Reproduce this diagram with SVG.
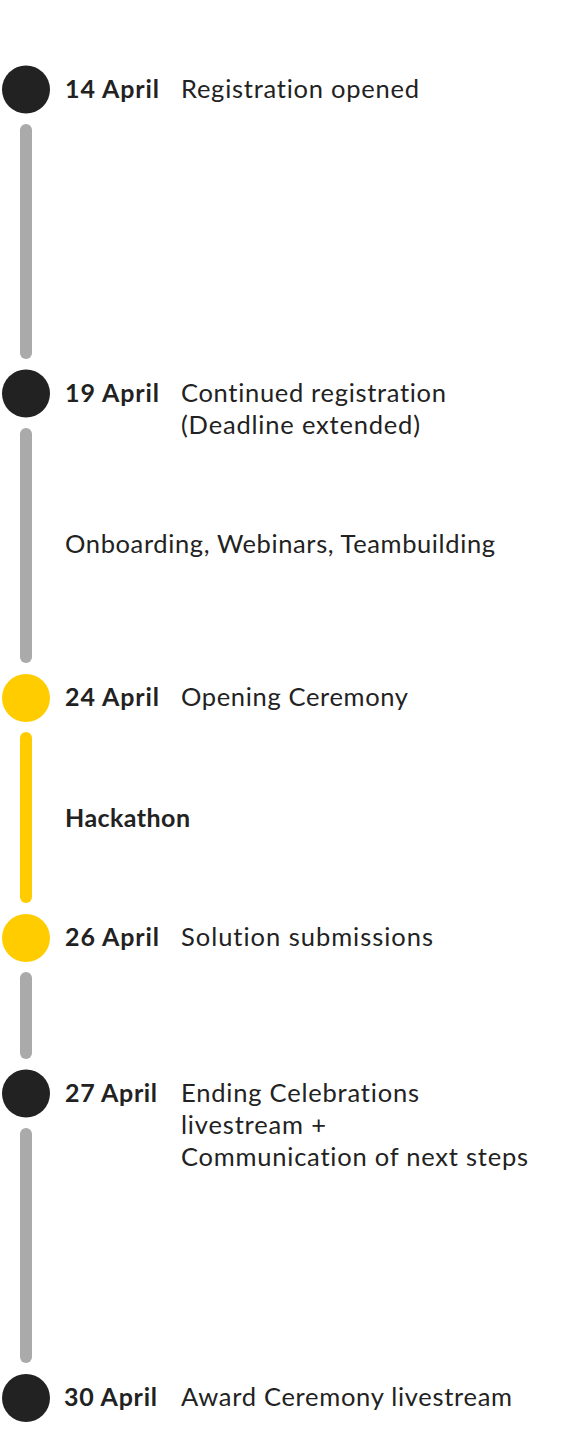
<svg xmlns="http://www.w3.org/2000/svg" width="562" height="1433" viewBox="0 0 562 1433">
  <style>
    .dot-dark { fill: #222222; }
    .dot-gold { fill: #ffcc00; }
    .bar-gray { fill: #aaaaaa; }
    .bar-gold { fill: #ffcc00; }
    text { font-family: "Lato", "Noto Sans", "Liberation Sans", sans-serif; font-size: 25.5px; fill: #222222; font-variant-ligatures: none; }
    .date { font-weight: bold; font-size: 25px; }
    .phase { font-weight: bold; font-size: 25px; }
  </style>
  <rect width="562" height="1433" fill="#ffffff"/>

  <!-- timeline segments between milestones -->
  <g id="connectors">
    <rect class="bar-gray" x="20" y="124" width="12" height="235" rx="6"/>
    <rect class="bar-gray" x="20" y="428" width="12" height="235" rx="6"/>
    <rect class="bar-gold" x="20" y="732" width="12" height="171" rx="6"/>
    <rect class="bar-gray" x="20" y="972" width="12" height="87" rx="6"/>
    <rect class="bar-gray" x="20" y="1128" width="12" height="235" rx="6"/>
  </g>

  <g id="m-14-april">
    <circle class="dot-dark" cx="26" cy="89.5" r="24"/>
    <text class="date" x="65" y="97.5" textLength="94">14 April</text>
    <text x="181" y="97.5" textLength="238">Registration opened</text>
  </g>

  <g id="m-19-april">
    <circle class="dot-dark" cx="26" cy="393.5" r="24"/>
    <text class="date" x="65" y="401.5" textLength="94">19 April</text>
    <text x="181" y="401.5" textLength="265">Continued registration</text>
    <text x="181" y="433.5" textLength="239">(Deadline extended)</text>
  </g>

  <g id="phase-onboarding">
    <text x="65" y="553" textLength="430">Onboarding, Webinars, Teambuilding</text>
  </g>

  <g id="m-24-april">
    <circle class="dot-gold" cx="26" cy="698" r="24"/>
    <text class="date" x="65" y="706" textLength="94">24 April</text>
    <text x="181" y="706" textLength="227">Opening Ceremony</text>
  </g>

  <g id="phase-hackathon">
    <text class="phase" x="65" y="827" textLength="125">Hackathon</text>
  </g>

  <g id="m-26-april">
    <circle class="dot-gold" cx="26" cy="938" r="24"/>
    <text class="date" x="65" y="946" textLength="94">26 April</text>
    <text x="181" y="946" textLength="252">Solution submissions</text>
  </g>

  <g id="m-27-april">
    <circle class="dot-dark" cx="26" cy="1093.5" r="24"/>
    <text class="date" x="65" y="1101.5" textLength="92">27 April</text>
    <text x="181" y="1101.5" textLength="238">Ending Celebrations</text>
    <text x="181" y="1133.5" textLength="145">livestream +</text>
    <text x="181" y="1165.5" textLength="347">Communication of next steps</text>
  </g>

  <g id="m-30-april">
    <circle class="dot-dark" cx="26" cy="1398" r="24"/>
    <text class="date" x="64" y="1406" textLength="93">30 April</text>
    <text x="181" y="1406" textLength="331">Award Ceremony livestream</text>
  </g>
</svg>
